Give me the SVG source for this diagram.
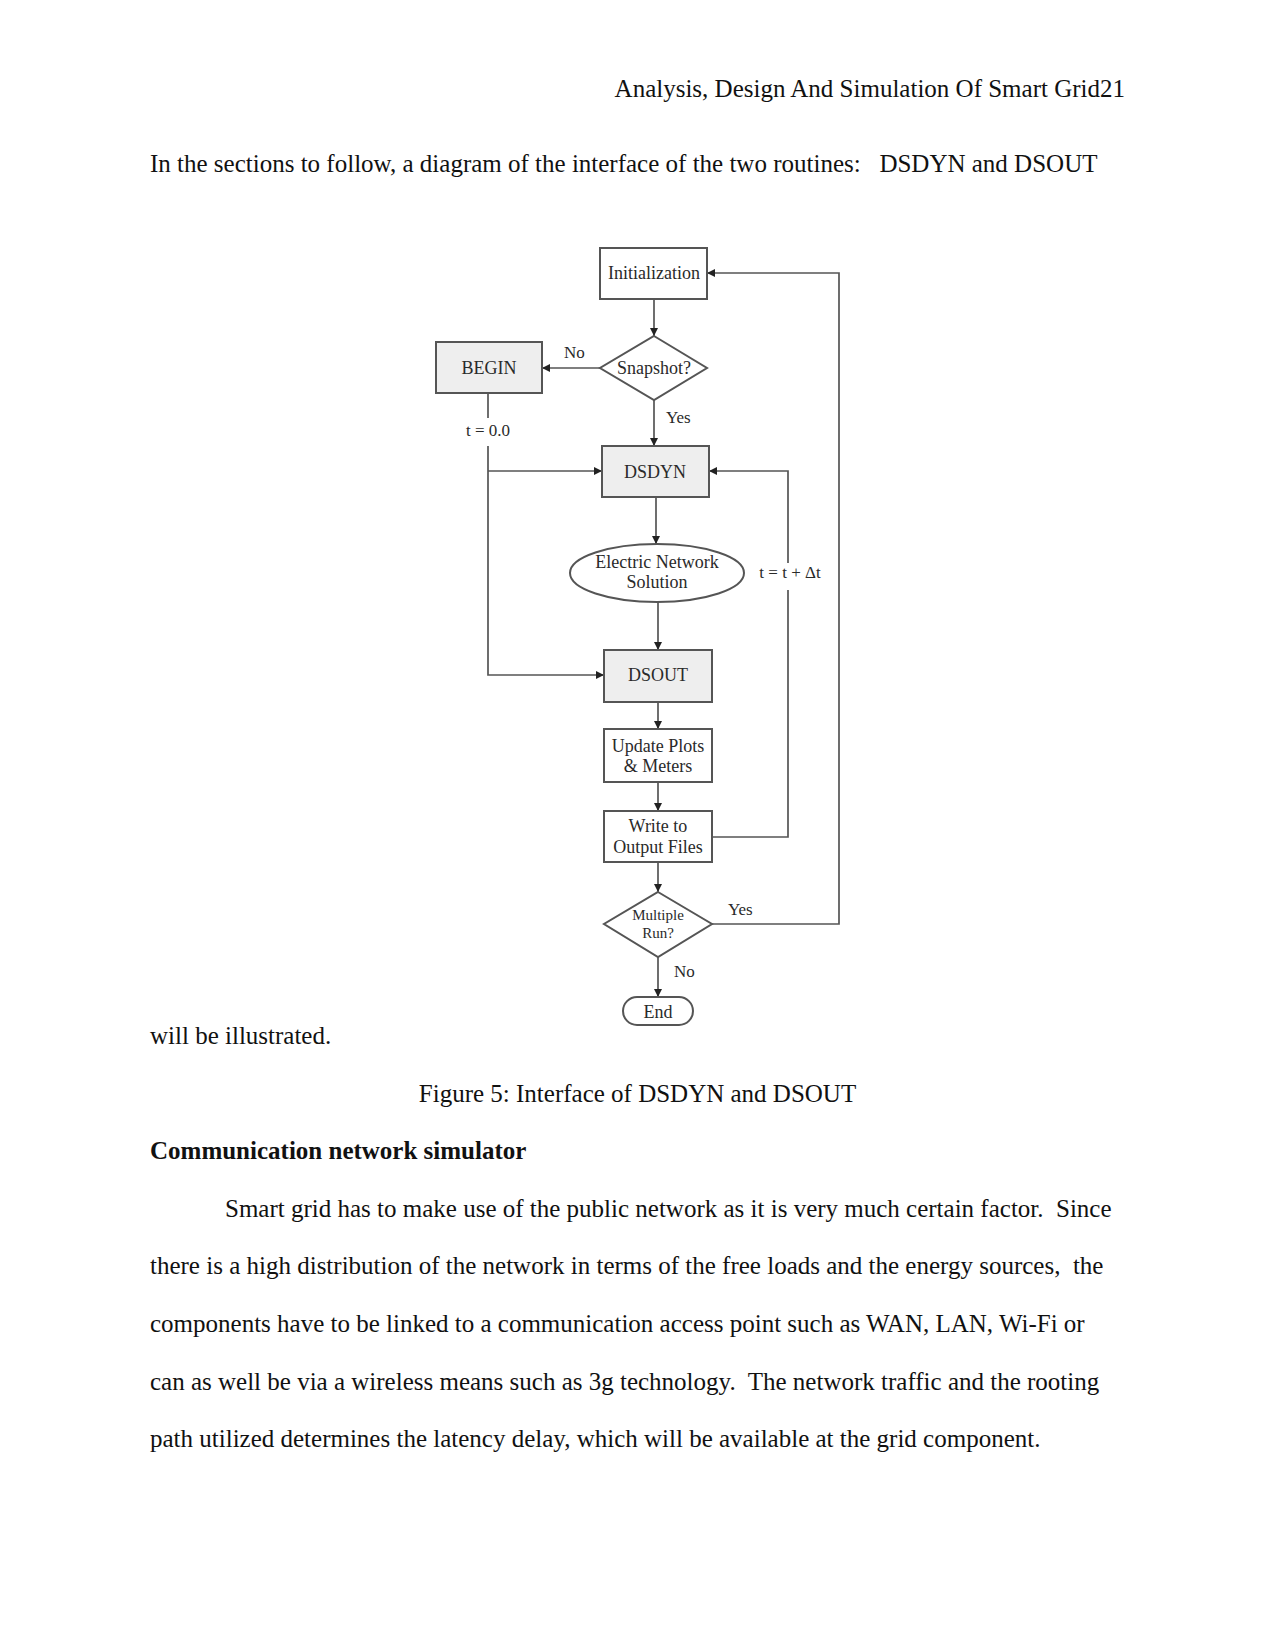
<svg xmlns="http://www.w3.org/2000/svg" width="1275" height="1650" viewBox="0 0 1275 1650">
<style>
.pg{font-family:"Liberation Serif","Times New Roman",serif;font-size:25px;fill:#111}
.nd{font-family:"Liberation Serif","Times New Roman",serif;font-size:18px;fill:#2a2a2a;text-anchor:middle}
.sm{font-size:15px}
.lb{font-family:"Liberation Serif","Times New Roman",serif;font-size:17px;fill:#2a2a2a}
.box{fill:#fff;stroke:#555;stroke-width:2}
.gbox{fill:#eeeeee;stroke:#555;stroke-width:2}
.ln{fill:none;stroke:#555;stroke-width:1.7}
.ar{fill:none;stroke:#555;stroke-width:1.7;marker-end:url(#ah)}
</style>
<defs>
<marker id="ah" viewBox="0 0 10 10" refX="10" refY="5" markerWidth="9" markerHeight="8" markerUnits="userSpaceOnUse" orient="auto">
<path d="M0,0 L10,5 L0,10 z" fill="#222"/>
</marker>
</defs>
<rect width="1275" height="1650" fill="#fff"/>

<text class="pg" x="1125" y="97" text-anchor="end">Analysis, Design And Simulation Of Smart Grid21</text>
<text class="pg" x="150" y="172" xml:space="preserve">In the sections to follow, a diagram of the interface of the two routines:   DSDYN and DSOUT</text>

<g id="connectors">
<path class="ar" d="M654,299 V336"/>
<path class="ar" d="M600,368 H542"/>
<path class="ar" d="M654,400 V446"/>
<path class="ln" d="M488,393 V418"/>
<path class="ar" d="M488,446 V675 H604"/>
<path class="ar" d="M488,471 H602"/>
<path class="ar" d="M656,497 V544"/>
<path class="ar" d="M658,602 V650"/>
<path class="ar" d="M658,702 V729"/>
<path class="ar" d="M658,782 V811"/>
<path class="ln" d="M712,837 H788 V590"/>
<path class="ar" d="M788,563 V471 H709"/>
<path class="ar" d="M658,862 V892"/>
<path class="ar" d="M712,924 H839 V273 H707"/>
<path class="ar" d="M658,957 V997"/>
<text class="lb" x="564" y="358">No</text>
<text class="lb" x="666" y="423">Yes</text>
<text class="lb" x="488" y="436" text-anchor="middle">t = 0.0</text>
<text class="lb" x="790" y="578" text-anchor="middle">t = t + Δt</text>
<text class="lb" x="728" y="915">Yes</text>
<text class="lb" x="674" y="977">No</text>
</g>

<g id="initialization">
<rect class="box" x="600" y="248" width="107" height="51"/>
<text class="nd" x="654" y="279">Initialization</text>
</g>
<g id="snapshot">
<polygon class="box" points="654,336 707,368 654,400 600,368"/>
<text class="nd" x="654" y="374">Snapshot?</text>
</g>
<g id="begin">
<rect class="gbox" x="436" y="342" width="106" height="51"/>
<text class="nd" x="489" y="374">BEGIN</text>
</g>
<g id="dsdyn">
<rect class="gbox" x="602" y="446" width="107" height="51"/>
<text class="nd" x="655" y="478">DSDYN</text>
</g>
<g id="electric-network-solution">
<ellipse class="box" cx="657" cy="573" rx="87" ry="29"/>
<text class="nd" x="657" y="568">Electric Network</text>
<text class="nd" x="657" y="588">Solution</text>
</g>
<g id="dsout">
<rect class="gbox" x="604" y="650" width="108" height="52"/>
<text class="nd" x="658" y="681">DSOUT</text>
</g>
<g id="update-plots">
<rect class="box" x="604" y="729" width="108" height="53"/>
<text class="nd" x="658" y="752">Update Plots</text>
<text class="nd" x="658" y="772">&amp; Meters</text>
</g>
<g id="write-output">
<rect class="box" x="604" y="811" width="108" height="51"/>
<text class="nd" x="658" y="832">Write to</text>
<text class="nd" x="658" y="853">Output Files</text>
</g>
<g id="multiple-run">
<polygon class="box" points="658,892 712,924 658,957 604,924"/>
<text class="nd sm" x="658" y="920">Multiple</text>
<text class="nd sm" x="658" y="938">Run?</text>
</g>
<g id="end">
<rect class="box" x="623" y="997" width="70" height="28" rx="14" ry="14"/>
<text class="nd" x="658" y="1018">End</text>
</g>

<text class="pg" x="150" y="1044">will be illustrated.</text>
<text class="pg" x="637.5" y="1102" text-anchor="middle">Figure 5: Interface of DSDYN and DSOUT</text>
<text class="pg" x="150" y="1159" font-weight="bold">Communication network simulator</text>
<text class="pg" x="225" y="1217" xml:space="preserve">Smart grid has to make use of the public network as it is very much certain factor.  Since</text>
<text class="pg" x="150" y="1274" xml:space="preserve">there is a high distribution of the network in terms of the free loads and the energy sources,  the</text>
<text class="pg" x="150" y="1332">components have to be linked to a communication access point such as WAN, LAN, Wi-Fi or</text>
<text class="pg" x="150" y="1390" xml:space="preserve">can as well be via a wireless means such as 3g technology.  The network traffic and the rooting</text>
<text class="pg" x="150" y="1447">path utilized determines the latency delay, which will be available at the grid component.</text>
</svg>
